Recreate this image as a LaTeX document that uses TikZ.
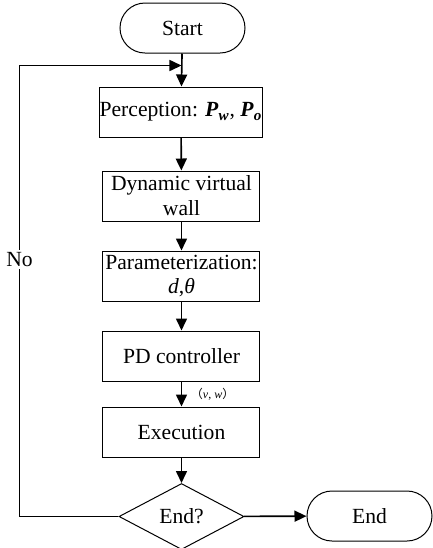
\documentclass[tikz,border=0pt]{standalone}
\usepackage{fontspec}
\setmainfont{Liberation Serif}
\newfontfamily\cjk{Noto Sans CJK SC}
\usetikzlibrary{arrows.meta,shapes.geometric}

\begin{document}
\begin{tikzpicture}[x=0.5pt,y=-0.5pt,font=\fontsize{10.8}{12.4}\selectfont,
    >={Triangle[length=6pt,width=5.5pt]},
    term/.style={draw,line width=0.5pt,rounded corners=12.5pt,
        minimum width=62.5pt,minimum height=25pt,inner sep=0pt},
    stepbox/.style={draw,line width=0.5pt,minimum width=78.5pt,
        minimum height=25pt,inner sep=0pt,align=center},
    flow/.style={->,line width=0.8pt}]
    \useasboundingbox (0,0) rectangle (433,548);

    \node[term] (start) at (182.5,28) {Start};
    \node[stepbox] (percep) at (181,112) {Perception:
        \textbf{\textit{P}}\textsubscript{\textbf{\textit{w}}},
        \textbf{\textit{P}}\textsubscript{\textbf{\textit{o}}}};
    \node[stepbox] (wall) at (181.5,196) {Dynamic virtual\\wall};
    \node[stepbox] (param) at (181.5,276) {Parameterization:\\\textit{d},\textit{θ}};
    \node[stepbox] (pd) at (181.5,356) {PD controller};
    \node[stepbox] (exec) at (181.5,432) {Execution};
    \node[diamond,draw,line width=0.5pt,minimum width=62.5pt,
        minimum height=33pt,inner sep=0pt] (check) at (181.5,516.5) {End?};
    \node[term] (stop) at (369.5,516) {End};

    \coordinate (join) at (181.5,65.5);
    \coordinate (cornA) at (19.5,516.5);
    \coordinate (cornB) at (19.5,65.5);

    \draw[flow] (start) -- (percep);
    \draw[flow] (percep) -- (wall);
    \draw[flow] (wall) -- (param);
    \draw[flow] (param) -- (pd);
    \draw[flow] (pd) -- node[right=1pt,font=\fontsize{6}{6}\selectfont]
        {{\cjk （}\textit{v}, \textit{w}{\cjk ）}} (exec);
    \draw[flow] (exec) -- (check);
    \draw[flow] (check) -- (stop);
    \draw[flow] (check) -- (cornA) --
        node[pos=0.57,fill=white,inner sep=1pt]{No} (cornB) -- (join);
\end{tikzpicture}
\end{document}
